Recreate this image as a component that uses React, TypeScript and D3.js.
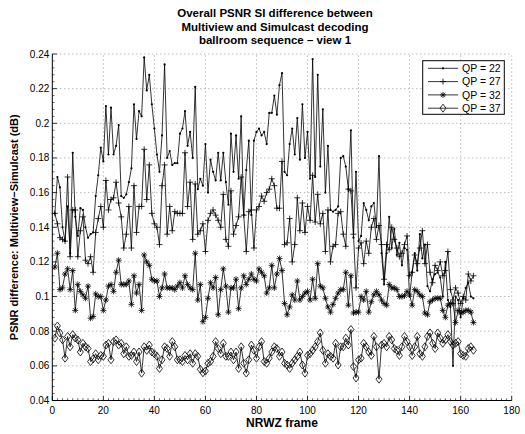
import React from "react";
import * as d3 from "d3";

const titleLines = [
  "Overall PSNR SI difference between",
  "Multiview and Simulcast decoding",
  "ballroom sequence \u2013 view 1",
];
const xLabel = "NRWZ frame";
const yLabel = "PSNR difference: Multiview\u2212Simulcast (dB)";
const xTicks = [0, 20, 40, 60, 80, 100, 120, 140, 160, 180];
const yTicks = [0.04, 0.06, 0.08, 0.1, 0.12, 0.14, 0.16, 0.18, 0.2, 0.22, 0.24];
const seriesNames = ["QP = 22", "QP = 27", "QP = 32", "QP = 37"];

const qp22 = [
  0.148, 0.169, 0.163, 0.140, 0.132, 0.152, 0.125, 0.183, 0.146, 0.135,
  0.151, 0.150, 0.140, 0.134, 0.136, 0.137, 0.158, 0.170, 0.186, 0.178,
  0.210, 0.182, 0.209, 0.182, 0.187, 0.199, 0.158, 0.157, 0.159, 0.166,
  0.174, 0.211, 0.191, 0.207, 0.204, 0.238, 0.219, 0.228, 0.211, 0.197,
  0.182, 0.172, 0.193, 0.234, 0.180, 0.184, 0.176, 0.177, 0.177, 0.194,
  0.197, 0.207, 0.187, 0.195, 0.180, 0.221, 0.162, 0.168, 0.164, 0.188,
  0.160, 0.179, 0.172, 0.167, 0.183, 0.167, 0.183, 0.166, 0.153, 0.194,
  0.172, 0.193, 0.168, 0.204, 0.147, 0.173, 0.190, 0.147, 0.190, 0.195,
  0.197, 0.193, 0.195, 0.188, 0.206, 0.206, 0.216, 0.205, 0.222, 0.229,
  0.172, 0.170, 0.188, 0.197, 0.182, 0.203, 0.179, 0.211, 0.180, 0.195,
  0.168, 0.237, 0.169, 0.228, 0.175, 0.208, 0.160, 0.187, 0.150, 0.149,
  0.150, 0.152, 0.180, 0.181, 0.175, 0.162, 0.196, 0.134, 0.172, 0.132,
  0.135, 0.154, 0.150, 0.144, 0.152, 0.154, 0.140, 0.181, 0.125, 0.107,
  0.125, 0.146, 0.128, 0.139, 0.124, 0.131, 0.118, 0.128, 0.127, 0.100,
  0.114, 0.125, 0.115, 0.136, 0.122, 0.130, 0.106, 0.103, 0.110, 0.113,
  0.114, 0.111, 0.100, 0.120, 0.098, 0.094, 0.060, 0.100, 0.098, 0.088,
  0.099, 0.105, 0.108, 0.100, 0.099,
];

const qp27 = [
  0.148, 0.142, 0.134, 0.133, 0.132, 0.169, 0.123, 0.150, 0.150, 0.123,
  0.138, 0.146, 0.121, 0.119, 0.123, 0.114, 0.137, 0.145, 0.152, 0.140,
  0.167, 0.150, 0.156, 0.157, 0.166, 0.154, 0.146, 0.128, 0.136, 0.152,
  0.128, 0.164, 0.137, 0.152, 0.152, 0.185, 0.156, 0.176, 0.148, 0.142,
  0.140, 0.130, 0.164, 0.176, 0.136, 0.152, 0.138, 0.149, 0.148, 0.148,
  0.148, 0.183, 0.152, 0.166, 0.133, 0.165, 0.136, 0.138, 0.142, 0.126,
  0.144, 0.148, 0.150, 0.147, 0.144, 0.140, 0.159, 0.133, 0.129, 0.161,
  0.136, 0.141, 0.146, 0.169, 0.147, 0.126, 0.149, 0.150, 0.128, 0.150,
  0.152, 0.158, 0.155, 0.160, 0.162, 0.168, 0.164, 0.151, 0.151, 0.178,
  0.130, 0.131, 0.145, 0.120, 0.130, 0.157, 0.138, 0.154, 0.137, 0.152,
  0.144, 0.170, 0.143, 0.159, 0.142, 0.148, 0.126, 0.150, 0.120, 0.129,
  0.130, 0.148, 0.149, 0.136, 0.129, 0.162, 0.161, 0.136, 0.105, 0.128,
  0.131, 0.119, 0.132, 0.125, 0.140, 0.145, 0.133, 0.141, 0.130, 0.110,
  0.130, 0.127, 0.140, 0.133, 0.128, 0.123, 0.125, 0.130, 0.135, 0.112,
  0.114, 0.124, 0.119, 0.128, 0.138, 0.119, 0.130, 0.114, 0.108, 0.118,
  0.115, 0.120, 0.112, 0.115, 0.126, 0.104, 0.098, 0.105, 0.102, 0.096,
  0.100, 0.098, 0.113, 0.109, 0.112,
];

const qp32 = [
  0.117, 0.125, 0.104, 0.105, 0.113, 0.116, 0.104, 0.115, 0.092, 0.107,
  0.103, 0.101, 0.099, 0.106, 0.0875, 0.0885, 0.1015, 0.100, 0.100, 0.092,
  0.098, 0.106, 0.107, 0.103, 0.114, 0.121, 0.107, 0.107, 0.107, 0.109,
  0.0955, 0.112, 0.102, 0.107, 0.092, 0.124, 0.120, 0.118, 0.110, 0.109,
  0.109, 0.100, 0.105, 0.113, 0.105, 0.105, 0.105, 0.104, 0.106, 0.108,
  0.105, 0.112, 0.107, 0.105, 0.104, 0.125, 0.098, 0.107, 0.0855, 0.088,
  0.099, 0.108, 0.105, 0.111, 0.0895, 0.104, 0.116, 0.106, 0.091, 0.105,
  0.105, 0.110, 0.093, 0.105, 0.112, 0.107, 0.110, 0.113, 0.110, 0.109,
  0.116, 0.114, 0.112, 0.102, 0.105, 0.118, 0.105, 0.113, 0.122, 0.115,
  0.096, 0.0895, 0.094, 0.101, 0.098, 0.109, 0.098, 0.100, 0.102, 0.103,
  0.098, 0.110, 0.099, 0.119, 0.106, 0.105, 0.099, 0.094, 0.091, 0.0955,
  0.099, 0.102, 0.104, 0.104, 0.114, 0.095, 0.112, 0.0905, 0.091, 0.091,
  0.100, 0.098, 0.103, 0.091, 0.097, 0.101, 0.103, 0.101, 0.098, 0.096,
  0.095, 0.107, 0.105, 0.105, 0.104, 0.100, 0.100, 0.1005, 0.103, 0.101,
  0.095, 0.104, 0.103, 0.101, 0.100, 0.0905, 0.0895, 0.097, 0.098, 0.099,
  0.099, 0.099, 0.092, 0.088, 0.095, 0.096, 0.096, 0.085, 0.092, 0.0905,
  0.091, 0.092, 0.092, 0.091, 0.085,
];

const qp37 = [
  0.076, 0.083, 0.079, 0.075, 0.0644, 0.077, 0.071, 0.078, 0.076, 0.075,
  0.068, 0.073, 0.071, 0.070, 0.0625, 0.064, 0.067, 0.0635, 0.066, 0.0655,
  0.072, 0.073, 0.0635, 0.074, 0.075, 0.072, 0.073, 0.067, 0.071, 0.0655,
  0.066, 0.068, 0.0625, 0.068, 0.0558, 0.071, 0.069, 0.072, 0.068, 0.067,
  0.0655, 0.0585, 0.0635, 0.071, 0.070, 0.0655, 0.074, 0.071, 0.0635, 0.0635,
  0.0625, 0.066, 0.0635, 0.067, 0.0615, 0.067, 0.0655, 0.058, 0.056, 0.057,
  0.0615, 0.0625, 0.0655, 0.074, 0.070, 0.067, 0.073, 0.0655, 0.0655, 0.068,
  0.0635, 0.068, 0.0585, 0.071, 0.0615, 0.0558, 0.0635, 0.072, 0.069, 0.0644,
  0.071, 0.074, 0.0625, 0.0615, 0.0644, 0.068, 0.071, 0.070, 0.0655, 0.068,
  0.0615, 0.0605, 0.0585, 0.0615, 0.0635, 0.0655, 0.068, 0.0605, 0.0558, 0.066,
  0.067, 0.069, 0.071, 0.074, 0.079, 0.069, 0.0615, 0.067, 0.0655, 0.0644,
  0.073, 0.0605, 0.071, 0.071, 0.076, 0.072, 0.081, 0.0596, 0.053, 0.0635,
  0.0644, 0.073, 0.071, 0.068, 0.066, 0.077, 0.071, 0.0523, 0.072, 0.073,
  0.071, 0.077, 0.075, 0.070, 0.069, 0.066, 0.071, 0.077, 0.074, 0.071,
  0.066, 0.071, 0.077, 0.067, 0.0655, 0.071, 0.077, 0.079, 0.073, 0.070,
  0.079, 0.076, 0.073, 0.075, 0.078, 0.074, 0.072, 0.073, 0.074, 0.067,
  0.066, 0.0655, 0.070, 0.071, 0.069,
];

const allSeries = [qp22, qp27, qp32, qp37];
const markerPaths = [
  "",
  "M-3,0H3M0,-3V3",
  "M-3,0H3M0,-3V3M-2.2,-2.2L2.2,2.2M-2.2,2.2L2.2,-2.2",
  "M0,-4L3,0L0,4L-3,0Z",
];

const W = 525;
const H = 434;
const left = 52.3;
const right = 511.7;
const top = 54;
const bottom = 400.5;
const FONT = "'Liberation Sans', Arial, Helvetica, sans-serif";

export default function App() {
  const x = d3.scaleLinear().domain([0, 180]).range([left, right]);
  const y = d3.scaleLinear().domain([0.04, 0.24]).range([bottom, top]);
  const line = d3
    .line<number>()
    .x((_, i) => x(i + 1))
    .y((d) => y(d));
  const xMinor = d3.range(0, 180.001, 2).filter((v) => v % 20 !== 0);
  const yMinor = d3.range(0.04, 0.2401, 0.004).filter((v) => Math.abs((v * 50) - Math.round(v * 50)) > 1e-6);

  const renderMarker = (si: number, cx: number, cy: number, key: string) => {
    if (si === 0) return <circle key={key} cx={cx} cy={cy} r={1.1} fill="#000" />;
    return (
      <path
        key={key}
        d={markerPaths[si]}
        transform={`translate(${cx},${cy})`}
        fill="none"
        stroke="#000"
        strokeWidth={0.8}
      />
    );
  };

  return (
    <svg
      width={W}
      height={H}
      style={{ position: "absolute", left: 0, top: 0, background: "#fff" }}
      fontFamily={FONT}
    >
      <rect x={0} y={0} width={W} height={H} fill="#fff" />
      {/* grid */}
      {xTicks.slice(1).map((t) => (
        <line key={`gx${t}`} x1={x(t)} x2={x(t)} y1={bottom} y2={top} stroke="#555" strokeWidth={0.6} strokeDasharray="1,3" />
      ))}
      {yTicks.slice(1).map((t) => (
        <line key={`gy${t}`} x1={left} x2={right} y1={y(t)} y2={y(t)} stroke="#555" strokeWidth={0.6} strokeDasharray="1,3" />
      ))}
      {/* series */}
      {allSeries.map((s, si) => (
        <g key={`s${si}`}>
          <path d={line(s) || ""} fill="none" stroke="#000" strokeWidth={0.8} />
          {s.map((v, i) => renderMarker(si, x(i + 1), y(v), `m${si}-${i}`))}
        </g>
      ))}
      {/* axes */}
      <line x1={left} x2={right} y1={bottom} y2={bottom} stroke="#000" strokeWidth={1} />
      <line x1={left} x2={left} y1={bottom} y2={top} stroke="#000" strokeWidth={1} />
      {xTicks.map((t) => (
        <g key={`xt${t}`}>
          <line x1={x(t)} x2={x(t)} y1={bottom} y2={bottom - 4.5} stroke="#000" strokeWidth={0.8} />
          <text x={x(t)} y={414} fontSize={10} textAnchor="middle" fill="#000">
            {t}
          </text>
        </g>
      ))}
      {xMinor.map((t) => (
        <line key={`xm${t}`} x1={x(t)} x2={x(t)} y1={bottom} y2={bottom - 2.2} stroke="#000" strokeWidth={0.6} />
      ))}
      {yTicks.map((t) => (
        <g key={`yt${t}`}>
          <line x1={left} x2={left + 4.5} y1={y(t)} y2={y(t)} stroke="#000" strokeWidth={0.8} />
          <text x={left - 3} y={y(t) + 3.5} fontSize={10} textAnchor="end" fill="#000">
            {String(+t.toFixed(2))}
          </text>
        </g>
      ))}
      {yMinor.map((t) => (
        <line key={`ym${t}`} x1={left} x2={left + 2.2} y1={y(t)} y2={y(t)} stroke="#000" strokeWidth={0.6} />
      ))}
      {/* title */}
      {titleLines.map((tl, i) => (
        <text key={`t${i}`} x={275} y={17 + i * 13.5} fontSize={11.5} fontWeight="bold" textAnchor="middle" fill="#000">
          {tl}
        </text>
      ))}
      <text x={282} y={427} fontSize={12} fontWeight="bold" textAnchor="middle" fill="#000">
        {xLabel}
      </text>
      <text
        transform={`translate(18,${(top + bottom) / 2}) rotate(-90)`}
        fontSize={11}
        fontWeight="bold"
        textAnchor="middle"
        fill="#000"
      >
        {yLabel}
      </text>
      {/* legend */}
      <rect x={422.7} y={60.7} width={81.6} height={53.6} fill="#fff" stroke="#000" strokeWidth={1} />
      {seriesNames.map((n, i) => {
        const ly = 68.3 + i * 13.3;
        return (
          <g key={`lg${i}`}>
            <line x1={428} x2={458} y1={ly} y2={ly} stroke="#000" strokeWidth={0.8} />
            {renderMarker(i, 443, ly, `lm${i}`)}
            <text x={462} y={ly + 3.7} fontSize={10.5} fill="#000">
              {n}
            </text>
          </g>
        );
      })}
    </svg>
  );
}
